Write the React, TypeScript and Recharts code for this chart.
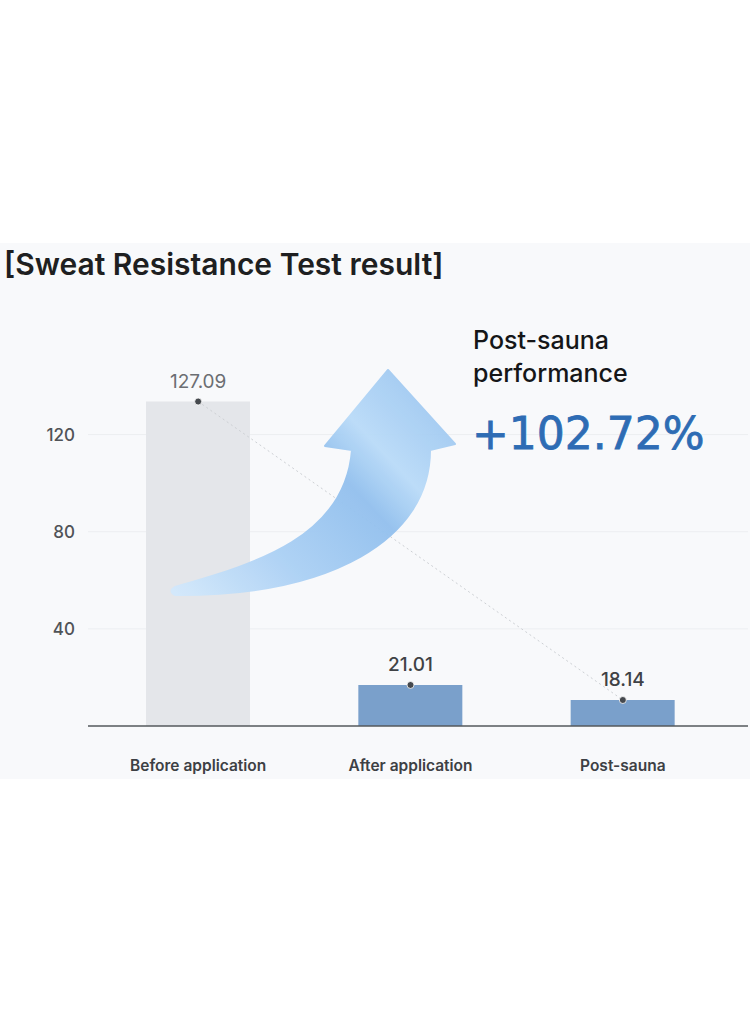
import React from 'react';
import {
  ComposedChart,
  Bar,
  Line,
  Cell,
  CartesianGrid,
  XAxis,
  YAxis,
  LabelList,
} from 'recharts';

const categories = ['Before application', 'After application', 'Post-sauna'];
// bar heights as drawn in the picture (axis units)
const barHeights = [133.6, 16.9, 10.7];
// numbers printed above the bars
const valueLabels = ['127.09', '21.01', '18.14'];
// the faint dotted trend runs from the first to the last point only
const trendValues = [133.6, null, 10.7];
const barColors = ['#e4e6ea', '#7aa0cb', '#7aa0cb'];
const yTicks = [40, 80, 120];

const chartData = categories.map((name, i) => ({
  name,
  value: barHeights[i],
  trend: trendValues[i],
  label: valueLabels[i],
}));

const FONT = 'Inter, "Noto Sans", sans-serif';

function renderValueLabel(props: any) {
  const { x, y, value } = props;
  const first = value === valueLabels[0];
  return (
    <text
      x={x}
      y={y - 14}
      textAnchor="middle"
      fontSize={19}
      fontWeight={first ? 400 : 500}
      fill={first ? '#6b6e72' : '#3f4246'}
      fontFamily={FONT}
    >
      {value}
    </text>
  );
}

function Arrow() {
  return (
    <svg
      width={750}
      height={1024}
      style={{ position: 'absolute', left: 0, top: 0, pointerEvents: 'none' }}
    >
      <defs>
        <linearGradient id="arrowFill" x1={175} y1={592} x2={400} y2={380} gradientUnits="userSpaceOnUse">
          <stop offset="0" stopColor="#d3e9fc" />
          <stop offset="0.35" stopColor="#a9cff4" />
          <stop offset="0.65" stopColor="#92c0ee" />
          <stop offset="0.8" stopColor="#b9dbf8" />
          <stop offset="1" stopColor="#a3cbf2" />
        </linearGradient>
      </defs>
      <path
        d="M175,587 C250,565 345,540 352,450 L325,446 L388,370 L455,444 L430,450 C430,540 330,596 175,595 Q168,591 175,587 Z"
        fill="url(#arrowFill)"
        stroke="url(#arrowFill)"
        strokeWidth={2}
        strokeLinejoin="round"
        opacity={0.95}
      />
    </svg>
  );
}

function Texts() {
  return (
    <svg
      width={750}
      height={1024}
      style={{ position: 'absolute', left: 0, top: 0, pointerEvents: 'none' }}
      fontFamily={FONT}
    >
      <text x={4} y={275} fontSize={30} fontWeight={600} fill="#1e1f21">
        [Sweat Resistance Test result]
      </text>
      <text x={473} y={349} fontSize={25} fontWeight={500} fill="#151618">
        Post-sauna
      </text>
      <text x={473} y={382} fontSize={25} fontWeight={500} fill="#151618">
        performance
      </text>
      <text
        x={472}
        y={449}
        fontSize={44}
        fontFamily='"DejaVu Sans", sans-serif'
        fill="#2e6cb4"
        stroke="#2e6cb4"
        strokeWidth={0.8}
      >
        +102.72%
      </text>
    </svg>
  );
}

export default function App() {
  return (
    <div
      style={{
        position: 'fixed',
        left: 0,
        top: 0,
        width: 750,
        height: 1024,
        background: '#ffffff',
        fontFamily: FONT,
        overflow: 'hidden',
      }}
    >
      <div
        style={{
          position: 'absolute',
          left: 0,
          top: 243,
          width: 750,
          height: 536,
          background: '#f8f9fb',
        }}
      />
      <div style={{ position: 'absolute', left: 0, top: 0 }}>
        <ComposedChart
          width={750}
          height={1024}
          data={chartData}
          margin={{ top: 386, right: 2, bottom: 258, left: 28 }}
        >
          <CartesianGrid vertical={false} stroke="#eceef1" horizontalValues={yTicks} />
          <XAxis
            dataKey="name"
            height={40}
            padding={{ left: 4, right: 19 }}
            tickLine={false}
            tickSize={0}
            tickMargin={34}
            axisLine={{ stroke: '#55585c', strokeWidth: 1.5 }}
            tick={{ fontSize: 15.5, fill: '#3d4044', fontWeight: 600, fontFamily: FONT }}
          />
          <YAxis
            width={60}
            domain={[0, 140]}
            ticks={yTicks}
            axisLine={false}
            tickLine={false}
            tickSize={0}
            tickMargin={13}
            tick={{ fontSize: 17, fill: '#505357', fontWeight: 500, fontFamily: FONT }}
          />
          <Bar dataKey="value" barSize={104} isAnimationActive={false}>
            {chartData.map((d, i) => (
              <Cell key={d.name} fill={barColors[i]} />
            ))}
          </Bar>
          <Line
            dataKey="trend"
            type="linear"
            connectNulls
            stroke="#cdd0d4"
            strokeWidth={1}
            strokeDasharray="2 3"
            dot={false}
            activeDot={false}
            isAnimationActive={false}
          />
          <Line
            dataKey="value"
            type="linear"
            stroke="none"
            dot={{ r: 3.5, fill: '#45494e', stroke: '#ffffff', strokeWidth: 0.8 }}
            activeDot={false}
            isAnimationActive={false}
          >
            <LabelList dataKey="label" content={renderValueLabel} />
          </Line>
        </ComposedChart>
      </div>
      <Arrow />
      <Texts />
    </div>
  );
}
